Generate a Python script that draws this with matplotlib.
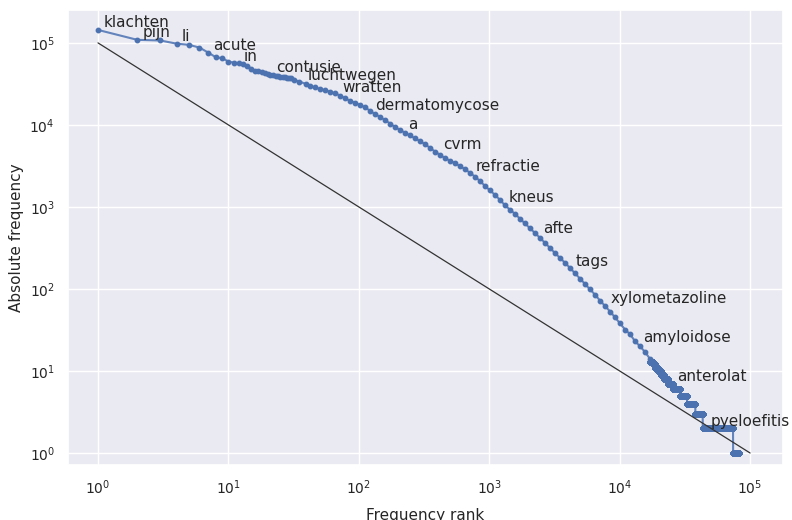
import numpy as np
import matplotlib
matplotlib.use("Agg")
import matplotlib.pyplot as plt
import seaborn as sns

sns.set_theme(style="darkgrid")

# frequencies of ranks 1..30
head_freq = [144000, 109000, 107000, 98000, 94600, 87700, 76200, 66900, 65000, 59200,
             57500, 56400, 55800, 52800, 48200, 45900, 44900, 44200, 43200, 42200,
             41000, 40700, 40000, 39300, 38700, 38400, 37900, 37600, 37300, 37000]

# sampled points of the middle part (rank, frequency)
mid_rank = [32, 35, 39, 42, 46, 50, 55, 60, 66, 72, 78, 86, 94, 102, 112, 122, 133, 146,
            159, 174, 190, 207, 226, 247, 270, 295, 322, 352, 384, 420, 459, 501, 547,
            598, 653, 713, 779, 851, 929, 1014, 1108, 1210, 1322, 1444, 1577, 1723, 1882,
            2056, 2245, 2453, 2679, 2926, 3196, 3491, 3814, 4166, 4550, 4970, 5429, 5930,
            6477, 7075, 7727, 8441, 9220, 10070, 11000, 12020, 13130, 14330, 15660, 17110]
mid_freq = [35400, 33700, 31800, 29900, 28700, 27500, 26500, 25500, 24200, 22800, 21200,
            19600, 18600, 17500, 16400, 14800, 13600, 12500, 11400, 10400, 9380, 8690,
            8060, 7450, 6880, 6330, 5820, 5240, 4730, 4310, 3930, 3660, 3410, 3140, 2880,
            2600, 2340, 2060, 1800, 1590, 1400, 1217, 1043, 925, 821, 718, 629, 550, 482,
            419, 364, 316, 273, 239, 208, 180, 155, 134, 115, 99, 85, 72, 62, 53, 45, 38,
            32, 28, 23, 20, 17, 14]

# low-frequency tail: frequency and last rank having it
tail_freq = [13, 12, 11, 10, 9, 8, 7, 6, 5, 4, 3, 2, 1]
tail_last_rank = [17900, 18700, 19600, 20600, 21800, 23300, 25600, 29000, 32800,
                  38000, 43300, 74000, 82000]

label_words = ["klachten", "pijn", "li", "acute", "in", "contusie", "luchtwegen",
               "wratten", "dermatomycose", "a", "cvrm", "refractie", "kneus", "afte",
               "tags", "xylometazoline", "amyloidose", "anterolat", "pyeloefitis"]
label_rank = [1, 2, 4, 7, 12, 21, 37, 68, 121, 219, 400, 721, 1292, 2366, 4218, 7727,
              13900, 25100, 45700]
label_freq = [144000, 109000, 98000, 76200, 56400, 41000, 32200, 23000, 14200, 8300,
              4700, 2560, 1067, 447, 178, 62, 21, 7, 2]

ref_rank = [1, 100000]
ref_freq = [100000, 1]

counts = np.diff([mid_rank[-1]] + tail_last_rank)
tail_ranks = np.arange(mid_rank[-1] + 1, tail_last_rank[-1] + 1)
tail_vals = np.repeat(tail_freq, counts)

ranks = np.concatenate([np.arange(1, len(head_freq) + 1), mid_rank, tail_ranks])
freqs = np.concatenate([head_freq, mid_freq, tail_vals])

fig = plt.figure(figsize=(7.92, 5.2), dpi=100)
ax = fig.add_axes([0.0859, 0.1058, 0.9028, 0.875])

ax.plot(ranks, freqs, marker=".", markersize=6.4, linewidth=1.5, color="#6283BC",
        markerfacecolor="#4C72B0", markeredgecolor="#4C72B0")
ax.plot(ref_rank, ref_freq, color="#333333", linewidth=0.9)

for w, r, f in zip(label_words, label_rank, label_freq):
    ax.annotate(w, (r, f), xytext=(3.8, 2), textcoords="offset points",
                ha="left", va="baseline", fontsize=11, color="#262626")

ax.set_xscale("log")
ax.set_yscale("log")
ax.set_xlim(0.589, 179000)
ax.set_ylim(0.714, 252000)
ax.tick_params(labelsize=10)
ax.set_xlabel("Frequency rank", fontsize=11, labelpad=8)
ax.set_ylabel("Absolute frequency", fontsize=11)

fig.savefig("out.png", dpi=100)
